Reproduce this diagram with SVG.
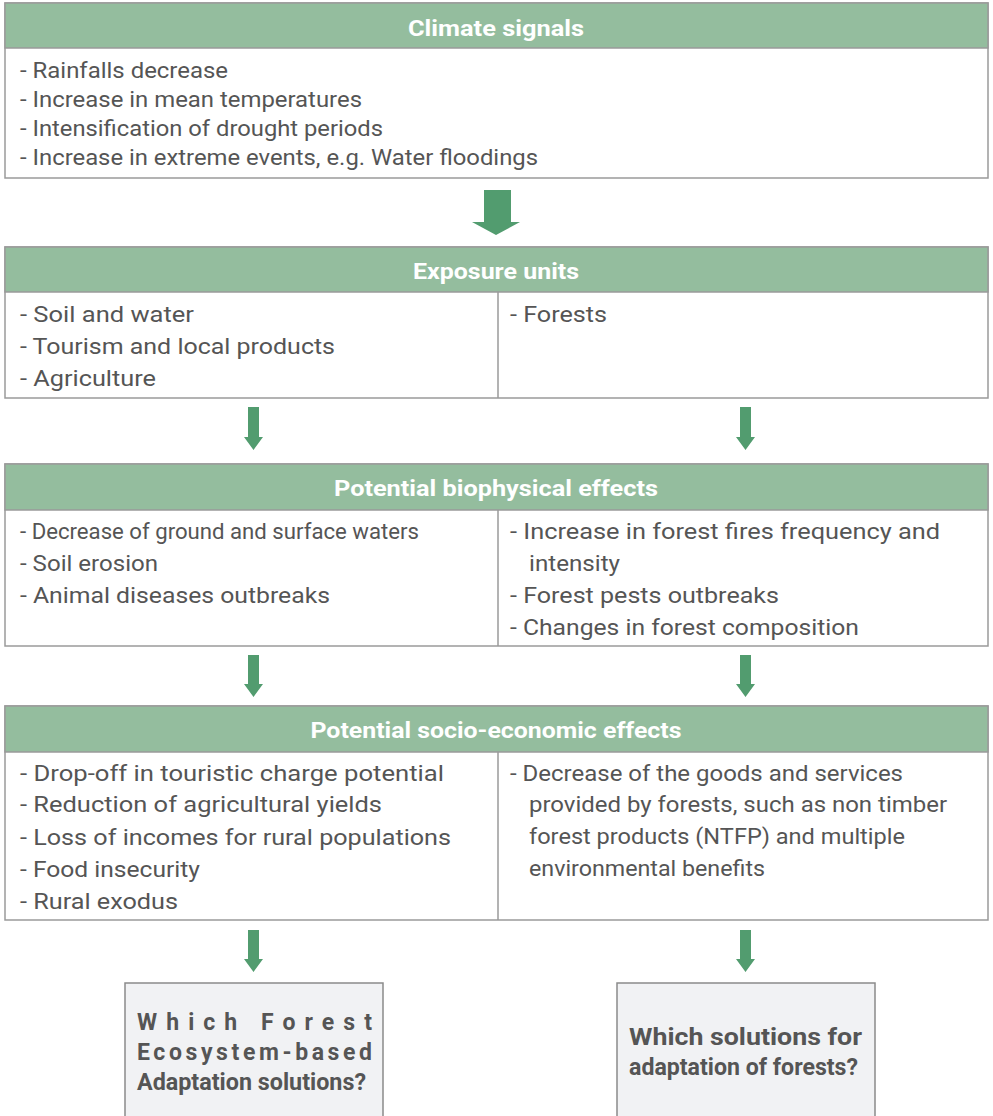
<svg xmlns="http://www.w3.org/2000/svg" width="993" height="1116" viewBox="0 0 993 1116">
<style>
.box{fill:#fff;stroke:#9a9a9a;stroke-width:1.5}
.hdr{fill:#94bd9e;stroke:#9a9a9a;stroke-width:1.5}
.div{stroke:#9a9a9a;stroke-width:1.5}
.ht{font-family:Roboto,"Liberation Sans",sans-serif;font-size:22px;font-weight:bold;fill:#fff;text-anchor:middle}
.t{font-family:Roboto,"Liberation Sans",sans-serif;font-size:22px;fill:#555}
.q{fill:#f1f2f4;stroke:#8a8a8a;stroke-width:1.5}
.qt{font-family:Roboto,"Liberation Sans",sans-serif;font-size:23px;font-weight:bold;fill:#555}
.arr{fill:#529c6f}
</style>
<rect width="993" height="1116" fill="#fff"/>
<g id="climate-signals">
<rect class="box" x="5" y="3" width="983" height="175"/>
<rect class="hdr" x="5" y="3" width="983" height="45"/>
<text class="ht" x="496" y="36" textLength="176" lengthAdjust="spacingAndGlyphs">Climate signals</text>
<text class="t" x="20" y="78" textLength="208" lengthAdjust="spacingAndGlyphs">- Rainfalls decrease</text>
<text class="t" x="20" y="107" textLength="342" lengthAdjust="spacingAndGlyphs">- Increase in mean temperatures</text>
<text class="t" x="20" y="136" textLength="363" lengthAdjust="spacingAndGlyphs">- Intensification of drought periods</text>
<text class="t" x="20" y="165" textLength="518" lengthAdjust="spacingAndGlyphs">- Increase in extreme events, e.g. Water floodings</text>
</g>
<g id="exposure-units">
<rect class="box" x="5" y="247" width="983" height="151"/>
<rect class="hdr" x="5" y="247" width="983" height="45"/>
<line class="div" x1="498" y1="292" x2="498" y2="398"/>
<text class="ht" x="496" y="279" textLength="166" lengthAdjust="spacingAndGlyphs">Exposure units</text>
<text class="t" x="20" y="322" textLength="174" lengthAdjust="spacingAndGlyphs">- Soil and water</text>
<text class="t" x="20" y="354" textLength="315" lengthAdjust="spacingAndGlyphs">- Tourism and local products</text>
<text class="t" x="20" y="386" textLength="136" lengthAdjust="spacingAndGlyphs">- Agriculture</text>
<text class="t" x="510" y="322" textLength="97" lengthAdjust="spacingAndGlyphs">- Forests</text>
</g>
<g id="biophysical-effects">
<rect class="box" x="5" y="464" width="983" height="182"/>
<rect class="hdr" x="5" y="464" width="983" height="46"/>
<line class="div" x1="498" y1="510" x2="498" y2="646"/>
<text class="ht" x="496" y="496" textLength="324" lengthAdjust="spacingAndGlyphs">Potential biophysical effects</text>
<text class="t" x="20" y="539" textLength="399" lengthAdjust="spacingAndGlyphs">- Decrease of ground and surface waters</text>
<text class="t" x="20" y="571" textLength="138" lengthAdjust="spacingAndGlyphs">- Soil erosion</text>
<text class="t" x="20" y="603" textLength="310" lengthAdjust="spacingAndGlyphs">- Animal diseases outbreaks</text>
<text class="t" x="510" y="539" textLength="430" lengthAdjust="spacingAndGlyphs">- Increase in forest fires frequency and</text>
<text class="t" x="529" y="571" textLength="91" lengthAdjust="spacingAndGlyphs">intensity</text>
<text class="t" x="510" y="603" textLength="269" lengthAdjust="spacingAndGlyphs">- Forest pests outbreaks</text>
<text class="t" x="510" y="635" textLength="349" lengthAdjust="spacingAndGlyphs">- Changes in forest composition</text>
</g>
<g id="socio-economic-effects">
<rect class="box" x="5" y="706" width="983" height="214"/>
<rect class="hdr" x="5" y="706" width="983" height="46"/>
<line class="div" x1="498" y1="752" x2="498" y2="920"/>
<text class="ht" x="496" y="738" textLength="371" lengthAdjust="spacingAndGlyphs">Potential socio-economic effects</text>
<text class="t" x="20" y="781" textLength="424" lengthAdjust="spacingAndGlyphs">- Drop-off in touristic charge potential</text>
<text class="t" x="20" y="812" textLength="362" lengthAdjust="spacingAndGlyphs">- Reduction of agricultural yields</text>
<text class="t" x="20" y="845" textLength="431" lengthAdjust="spacingAndGlyphs">- Loss of incomes for rural populations</text>
<text class="t" x="20" y="877" textLength="180" lengthAdjust="spacingAndGlyphs">- Food insecurity</text>
<text class="t" x="20" y="909" textLength="158" lengthAdjust="spacingAndGlyphs">- Rural exodus</text>
<text class="t" x="510" y="781" textLength="393" lengthAdjust="spacingAndGlyphs">- Decrease of the goods and services</text>
<text class="t" x="529" y="812" textLength="418" lengthAdjust="spacingAndGlyphs">provided by forests, such as non timber</text>
<text class="t" x="529" y="844" textLength="376" lengthAdjust="spacingAndGlyphs">forest products (NTFP) and multiple</text>
<text class="t" x="529" y="876" textLength="236" lengthAdjust="spacingAndGlyphs">environmental benefits</text>
</g>
<g id="question-feba">
<rect class="q" x="125" y="983" width="258" height="140"/>
<text class="qt" x="137" y="1030" textLength="235" lengthAdjust="spacing">Which Forest</text>
<text class="qt" x="137" y="1060" textLength="235" lengthAdjust="spacing">Ecosystem-based</text>
<text class="qt" x="137" y="1090" textLength="229" lengthAdjust="spacingAndGlyphs">Adaptation solutions?</text>
</g>
<g id="question-forests">
<rect class="q" x="617" y="983" width="258" height="140"/>
<text class="qt" x="629" y="1045" textLength="233" lengthAdjust="spacingAndGlyphs">Which solutions for</text>
<text class="qt" x="629" y="1075" textLength="229" lengthAdjust="spacingAndGlyphs">adaptation of forests?</text>
</g>
<g id="connectors">
<polygon class="arr" points="484,190 511,190 511,222 520,222 496,235 472,222 484,222"/>
<polygon class="arr" points="248,407 259,407 259,437 263,437 253.5,450 244,437 248,437"/>
<polygon class="arr" points="740,407 751,407 751,437 755,437 745.5,450 736,437 740,437"/>
<polygon class="arr" points="248,655 259,655 259,684 263,684 253.5,697 244,684 248,684"/>
<polygon class="arr" points="740,655 751,655 751,684 755,684 745.5,697 736,684 740,684"/>
<polygon class="arr" points="248,930 259,930 259,959 263,959 253.5,972 244,959 248,959"/>
<polygon class="arr" points="740,930 751,930 751,959 755,959 745.5,972 736,959 740,959"/>
</g>
</svg>
